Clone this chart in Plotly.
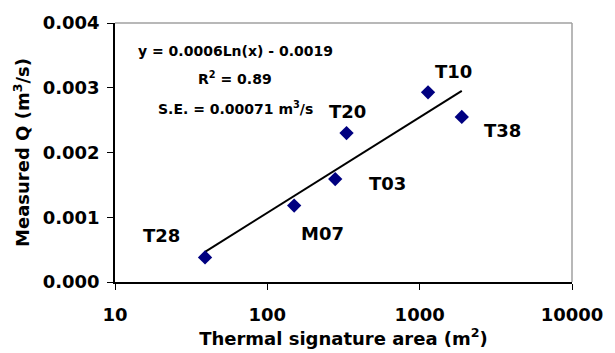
import numpy as np
import plotly.graph_objects as go

# Data
site_labels = ["T28", "M07", "T03", "T20", "T10", "T38"]
area_m2 = [39, 150, 279, 331, 1135, 1890]
measured_q = [0.00038, 0.00118, 0.00159, 0.00230, 0.00293, 0.00255]
x_tick_vals = [10, 100, 1000, 10000]
y_tick_vals = [0.000, 0.001, 0.002, 0.003, 0.004]

# label offsets in pixels (style)
label_offsets = {"T28": (-44, 22), "M07": (28, -28), "T03": (52, -4),
                 "T20": (1, 22), "T10": (25, 21), "T38": (41, -14)}

# logarithmic trendline fitted from the data
lnx = np.log(area_m2)
slope, intercept = np.polyfit(lnx, measured_q, 1)
xfit = np.exp(np.linspace(lnx.min(), lnx.max(), 50))
yfit = slope * np.log(xfit) + intercept

FONT = "DejaVu Sans, Liberation Sans, sans-serif"

fig = go.Figure()
fig.add_trace(go.Scatter(x=xfit, y=yfit, mode="lines",
                         line=dict(color="black", width=2), hoverinfo="skip"))
fig.add_trace(go.Scatter(x=area_m2, y=measured_q, mode="markers",
                         marker=dict(symbol="diamond", color="#000080", size=11)))

for lab, xv, yv in zip(site_labels, area_m2, measured_q):
    dx, dy = label_offsets[lab]
    fig.add_annotation(x=np.log10(xv), y=yv, xref="x", yref="y", text=f"<b>{lab}</b>",
                       showarrow=False, xshift=dx, yshift=dy,
                       xanchor="center", yanchor="middle",
                       font=dict(family=FONT, size=18, color="black"))

eq_lines = ["y = 0.0006Ln(x) - 0.0019", "R<sup>2</sup> = 0.89",
            "S.E. = 0.00071 m<sup>3</sup>/s"]
eq_ypos = [0.89, 0.787, 0.673]
for t, yp in zip(eq_lines, eq_ypos):
    fig.add_annotation(x=0.263, y=yp, xref="paper", yref="paper", text=f"<b>{t}</b>",
                       showarrow=False, xanchor="center", yanchor="middle",
                       font=dict(family=FONT, size=14, color="black"))

# gray top/right frame
fig.add_shape(type="line", xref="paper", yref="paper", x0=0, x1=1, y0=1, y1=1,
              line=dict(color="#a0a0a0", width=1.5))
fig.add_shape(type="line", xref="paper", yref="paper", x0=1, x1=1, y0=0, y1=1,
              line=dict(color="#a0a0a0", width=1.5))

fig.update_layout(
    width=615, height=353, showlegend=False,
    margin=dict(l=115, r=33, t=18, b=71),
    paper_bgcolor="white", plot_bgcolor="white",
    font=dict(family=FONT, color="black"),
    xaxis=dict(type="log", range=[1, 4], tickvals=x_tick_vals,
               ticktext=[f"<b>{v}</b>" for v in x_tick_vals],
               ticks="outside", ticklen=6, tickcolor="black", showgrid=False,
               zeroline=False, showline=True, linecolor="black", linewidth=1.5,
               ticklabelstandoff=10,
               tickfont=dict(family=FONT, size=18),
               title=dict(text="<b>Thermal signature area (m<sup>2</sup>)</b>",
                          font=dict(family=FONT, size=18), standoff=0)),
    yaxis=dict(range=[0, 0.004], tickvals=y_tick_vals,
               ticktext=[f"<b>{v:.3f}</b>" for v in y_tick_vals],
               ticks="outside", ticklen=6, tickcolor="black", showgrid=False,
               zeroline=False, showline=True, linecolor="black", linewidth=1.5,
               ticklabelstandoff=4,
               tickfont=dict(family=FONT, size=18),
               title=dict(text="<b>Measured Q (m<sup>3</sup>/s)</b>",
                          font=dict(family=FONT, size=18), standoff=8)),
)

fig.write_html("out.html")
